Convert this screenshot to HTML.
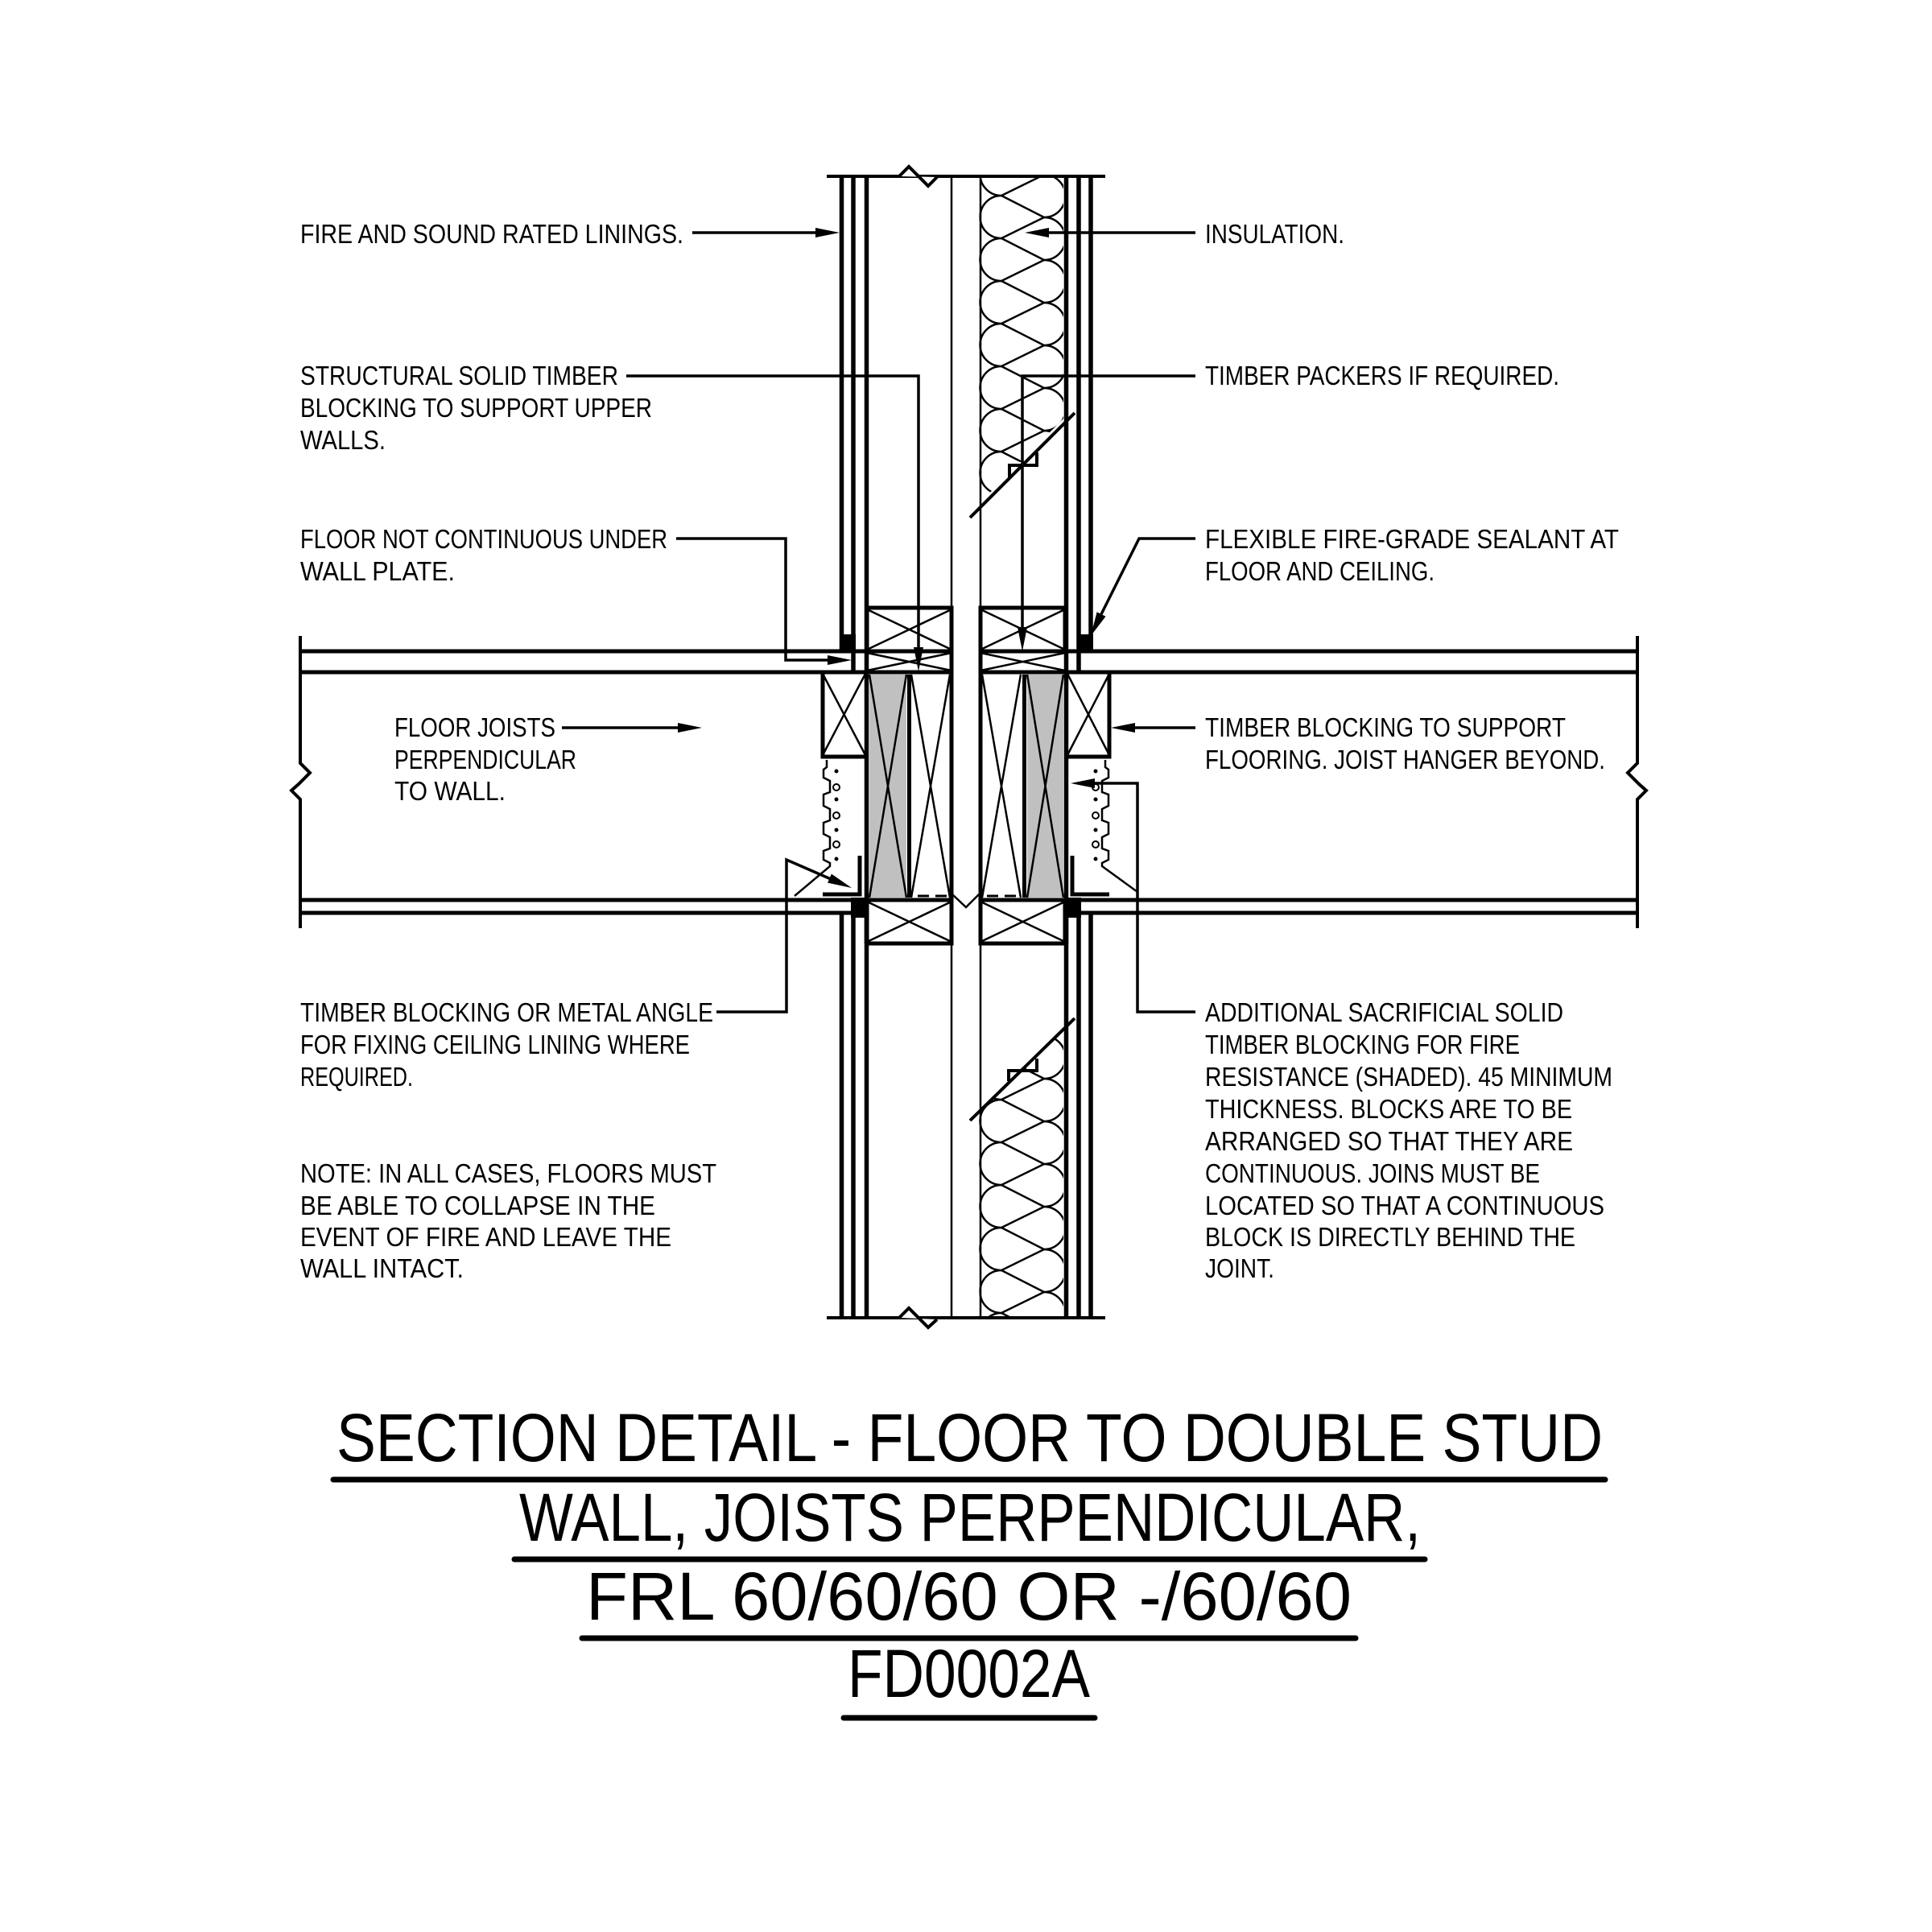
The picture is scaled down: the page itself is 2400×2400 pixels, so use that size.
<!DOCTYPE html>
<html><head><meta charset="utf-8"><style>
html,body{margin:0;padding:0;background:#fff}
svg{display:block}
text{font-family:"Liberation Sans",sans-serif;font-size:33px;fill:#000}
.t{font-size:84px}
</style></head><body>
<svg width="2400" height="2400" viewBox="0 0 2400 2400" xmlns="http://www.w3.org/2000/svg">
<defs>
<clipPath id="insTop"><polygon points="1218,219 1321,219 1321,520 1205,637"/></clipPath>
<clipPath id="insBot"><polygon points="1218,1637 1321,1637 1321,1278 1205,1392"/></clipPath>
</defs>
<g stroke="#000" fill="none" stroke-linecap="butt">
<g stroke-width="5">
<line x1="373" y1="809" x2="1183" y2="809"/><line x1="1216" y1="809" x2="2034" y2="809"/>
<line x1="373" y1="835" x2="1183" y2="835"/><line x1="1216" y1="835" x2="2034" y2="835"/>
<line x1="373" y1="1118" x2="1183" y2="1118"/><line x1="1216" y1="1118" x2="2034" y2="1118"/>
<line x1="373" y1="1134" x2="1076" y2="1134"/><line x1="1324" y1="1134" x2="2034" y2="1134"/>
</g>
<polyline stroke-width="4" points="373,790 373,948 385,960 371,974 362,982 373,993 373,1153"/>
<polyline stroke-width="4" points="2034,790 2034,948 2022,960 2036,974 2045,982 2034,993 2034,1153"/>
<line stroke-width="4" x1="1027" y1="219" x2="1373" y2="219"/>
<line stroke-width="4" x1="1027" y1="1637" x2="1373" y2="1637"/>
<polyline stroke-width="4" fill="#fff" points="1117,219 1129,207 1153,231 1164,220"/>
<polyline stroke-width="4" fill="#fff" points="1117,1637 1129,1625 1153,1649 1164,1639"/>
<g stroke-width="5.5">
<line x1="1045.5" y1="219" x2="1045.5" y2="809"/>
<line x1="1060" y1="219" x2="1060" y2="835"/>
<line x1="1076.5" y1="219" x2="1076.5" y2="1172"/>
<line x1="1324.5" y1="219" x2="1324.5" y2="1172"/>
<line x1="1340" y1="219" x2="1340" y2="835"/>
<line x1="1355" y1="219" x2="1355" y2="809"/>
<line x1="1045.5" y1="1134" x2="1045.5" y2="1637"/>
<line x1="1060" y1="1134" x2="1060" y2="1637"/>
<line x1="1076.5" y1="1134" x2="1076.5" y2="1637"/>
<line x1="1324.5" y1="1134" x2="1324.5" y2="1637"/>
<line x1="1340" y1="1134" x2="1340" y2="1637"/>
<line x1="1355" y1="1134" x2="1355" y2="1637"/>
</g>
<g stroke-width="2.5">
<line x1="1182" y1="219" x2="1182" y2="1637"/>
<line x1="1218" y1="219" x2="1218" y2="1637"/>
</g>
<rect x="1080" y="838" width="46" height="277" fill="#c0c0c0" stroke="none"/>
<rect x="1276" y="838" width="45" height="277" fill="#c0c0c0" stroke="none"/>
<g stroke-width="5">
<rect x="1077" y="755" width="105" height="54"/>
<rect x="1218" y="755" width="105" height="54"/>
<rect x="1077" y="1118" width="105" height="54"/>
<rect x="1218" y="1118" width="105" height="54"/>
<line x1="1182" y1="755" x2="1182" y2="1172"/>
<line x1="1218" y1="755" x2="1218" y2="1172"/>
<line x1="1129.5" y1="838" x2="1129.5" y2="1115"/>
<line x1="1272.5" y1="838" x2="1272.5" y2="1115"/>
<polyline points="1077,940 1022,940 1022,835"/>
<polyline points="1324,940 1378,940 1378,835"/>
</g>
<g stroke-width="2.5">
<path d="M1077,757 L1182,807 M1182,757 L1077,807 M1077,811 L1182,833 M1182,811 L1077,833"/>
<path d="M1218,757 L1323,807 M1323,757 L1218,807 M1218,811 L1323,833 M1323,811 L1218,833"/>
<path d="M1077,1120 L1182,1170 M1182,1120 L1077,1170 M1218,1120 L1323,1170 M1323,1120 L1218,1170"/>
<path d="M1080,838 L1126,1115 M1126,838 L1080,1115 M1132,838 L1180,1115 M1180,838 L1132,1115"/>
<path d="M1220,838 L1268,1115 M1268,838 L1220,1115 M1276,838 L1321,1115 M1321,838 L1276,1115"/>
<path d="M1022,837 L1075,938 M1075,837 L1022,938 M1326,837 L1378,938 M1378,837 L1326,938"/>
<polyline points="1183,1111 1200,1127 1216,1111"/>
</g>
<g stroke-width="3" stroke-dasharray="14,8">
<line x1="1140" y1="1113" x2="1176" y2="1113"/>
<line x1="1226" y1="1113" x2="1262" y2="1113"/>
</g>
<g stroke-width="2.5">
<polyline points="1027,944 1027,953 1023,956 1023,966 1031,970 1031,984 1023,987 1023,1001 1031,1005 1031,1019 1023,1022 1023,1036 1031,1040 1031,1054 1023,1057 1023,1068 1031,1072 1031,1076 987,1113"/>
<polyline points="1373,944 1373,953 1377,956 1377,966 1369,970 1369,984 1377,987 1377,1001 1369,1005 1369,1019 1377,1022 1377,1036 1369,1040 1369,1054 1377,1057 1377,1068 1369,1072 1369,1076 1413,1108"/>
</g>
<g fill="#000" stroke="none">
<circle cx="1039" cy="958" r="2.5"/><circle cx="1039" cy="993" r="2.5"/><circle cx="1039" cy="1031" r="2.5"/><circle cx="1039" cy="1067" r="2.5"/>
<circle cx="1361" cy="958" r="2.5"/><circle cx="1361" cy="993" r="2.5"/><circle cx="1361" cy="1031" r="2.5"/><circle cx="1361" cy="1067" r="2.5"/>
</g>
<g stroke-width="2"><circle cx="1039" cy="978" r="4"/><circle cx="1039" cy="1013" r="4"/><circle cx="1039" cy="1049" r="4"/>
<circle cx="1361" cy="978" r="4"/><circle cx="1361" cy="1013" r="4"/><circle cx="1361" cy="1049" r="4"/></g>
<g stroke-width="5">
<polyline points="1068,1063 1068,1111 1022,1111"/>
<polyline points="1332,1063 1332,1111 1378,1111"/>
</g>
<g fill="#000" stroke="none">
<rect x="1043" y="788" width="20" height="21"/>
<rect x="1338" y="788" width="20" height="21"/>
<rect x="1057" y="1115" width="21" height="25"/>
<rect x="1322" y="1115" width="21" height="25"/>
</g>
<g clip-path="url(#insTop)" stroke-width="2.5">
<path id="insPath" d="M1244,137 A26.5,26.5 0 0 0 1244,190 A26.5,26.5 0 0 0 1244,243 A26.5,26.5 0 0 0 1244,296 A26.5,26.5 0 0 0 1244,349 A26.5,26.5 0 0 0 1244,402 A26.5,26.5 0 0 0 1244,455 A26.5,26.5 0 0 0 1244,508 A26.5,26.5 0 0 0 1244,561 A26.5,26.5 0 0 0 1244,614 A26.5,26.5 0 0 0 1244,667 M1297,164 A26.5,26.5 0 0 1 1297,217 A26.5,26.5 0 0 1 1297,270 A26.5,26.5 0 0 1 1297,323 A26.5,26.5 0 0 1 1297,376 A26.5,26.5 0 0 1 1297,429 A26.5,26.5 0 0 1 1297,482 A26.5,26.5 0 0 1 1297,535 A26.5,26.5 0 0 1 1297,588 A26.5,26.5 0 0 1 1297,641 M1244,190 L1297,164 M1244,190 L1297,217 M1244,243 L1297,217 M1244,243 L1297,270 M1244,296 L1297,270 M1244,296 L1297,323 M1244,349 L1297,323 M1244,349 L1297,376 M1244,402 L1297,376 M1244,402 L1297,429 M1244,455 L1297,429 M1244,455 L1297,482 M1244,508 L1297,482 M1244,508 L1297,535 M1244,561 L1297,535 M1244,561 L1297,588 M1244,614 L1297,588 M1244,614 L1297,641"/>
</g>
<g clip-path="url(#insBot)" stroke-width="2.5">
<use href="#insPath" transform="translate(0,1017)"/>
</g>
<g stroke-width="4">
<line x1="1205" y1="643" x2="1335" y2="513"/>
<polyline points="1254,594 1254,578 1288,578 1288,562"/>
<line x1="1205" y1="1392" x2="1335" y2="1265"/>
<polyline points="1253,1343 1253,1330 1288,1330 1288,1315"/>
</g>
<g stroke-width="3.5">
<line x1="860" y1="289" x2="1020" y2="289"/>
<line x1="1485" y1="289" x2="1296" y2="289"/>
<polyline points="778,467 1141,467 1141,810"/>
<polyline points="1485,467 1270,467 1270,785"/>
<polyline points="840,669 976,669 976,820 1035,820"/>
<polyline points="1485,669 1415,669 1368,763"/>
<line x1="698" y1="904" x2="848" y2="904"/>
<line x1="1485" y1="904" x2="1403" y2="904"/>
<polyline points="890,1257 977,1257 977,1068 1032,1092"/>
<polyline points="1485,1257 1413,1257 1413,973 1353,973"/>
</g>
<g fill="#000" stroke="none">
<polygon points="1043,289 1013,283 1013,295"/>
<polygon points="1273,289 1303,283 1303,295"/>
<polygon points="1141,834 1135,804 1147,804"/>
<polygon points="1270,809 1264,779 1276,779"/>
<polygon points="1058,820 1028,814 1028,826"/>
<polygon points="1355,790 1373.5,765.7 1362.6,760.3"/>
<polygon points="872,904 842,898 842,910"/>
<polygon points="1380,904 1410,898 1410,910"/>
<polygon points="1058,1103 1028.1,1096.6 1032.9,1085.6"/>
<polygon points="1330,973 1360,967 1360,979"/>
</g>
<g stroke-width="7" stroke-linecap="round">
<line x1="414" y1="1838" x2="1994" y2="1838"/>
<line x1="639" y1="1937" x2="1770" y2="1937"/>
<line x1="723" y1="2035" x2="1684" y2="2035"/>
<line x1="1048" y1="2134" x2="1360" y2="2134"/>
</g>
</g>
<g>
<text x="373" y="302" textLength="476" lengthAdjust="spacingAndGlyphs">FIRE AND SOUND RATED LININGS.</text>
<text x="373" y="478" textLength="395" lengthAdjust="spacingAndGlyphs">STRUCTURAL SOLID TIMBER</text>
<text x="373" y="518" textLength="437" lengthAdjust="spacingAndGlyphs">BLOCKING TO SUPPORT UPPER</text>
<text x="373" y="558" textLength="106" lengthAdjust="spacingAndGlyphs">WALLS.</text>
<text x="373" y="681" textLength="456" lengthAdjust="spacingAndGlyphs">FLOOR NOT CONTINUOUS UNDER</text>
<text x="373" y="721" textLength="192" lengthAdjust="spacingAndGlyphs">WALL PLATE.</text>
<text x="490" y="915" textLength="200" lengthAdjust="spacingAndGlyphs">FLOOR JOISTS</text>
<text x="490" y="955" textLength="226" lengthAdjust="spacingAndGlyphs">PERPENDICULAR</text>
<text x="490" y="994" textLength="138" lengthAdjust="spacingAndGlyphs">TO WALL.</text>
<text x="373" y="1269" textLength="513" lengthAdjust="spacingAndGlyphs">TIMBER BLOCKING OR METAL ANGLE</text>
<text x="373" y="1309" textLength="484" lengthAdjust="spacingAndGlyphs">FOR FIXING CEILING LINING WHERE</text>
<text x="373" y="1349" textLength="140" lengthAdjust="spacingAndGlyphs">REQUIRED.</text>
<text x="373" y="1469" textLength="517" lengthAdjust="spacingAndGlyphs">NOTE: IN ALL CASES, FLOORS MUST</text>
<text x="373" y="1509" textLength="441" lengthAdjust="spacingAndGlyphs">BE ABLE TO COLLAPSE IN THE</text>
<text x="373" y="1548" textLength="461" lengthAdjust="spacingAndGlyphs">EVENT OF FIRE AND LEAVE THE</text>
<text x="373" y="1587" textLength="203" lengthAdjust="spacingAndGlyphs">WALL INTACT.</text>
<text x="1497" y="302" textLength="173" lengthAdjust="spacingAndGlyphs">INSULATION.</text>
<text x="1497" y="478" textLength="440" lengthAdjust="spacingAndGlyphs">TIMBER PACKERS IF REQUIRED.</text>
<text x="1497" y="681" textLength="514" lengthAdjust="spacingAndGlyphs">FLEXIBLE FIRE-GRADE SEALANT AT</text>
<text x="1497" y="721" textLength="285" lengthAdjust="spacingAndGlyphs">FLOOR AND CEILING.</text>
<text x="1497" y="915" textLength="448" lengthAdjust="spacingAndGlyphs">TIMBER BLOCKING TO SUPPORT</text>
<text x="1497" y="955" textLength="497" lengthAdjust="spacingAndGlyphs">FLOORING. JOIST HANGER BEYOND.</text>
<text x="1497" y="1269" textLength="445" lengthAdjust="spacingAndGlyphs">ADDITIONAL SACRIFICIAL SOLID</text>
<text x="1497" y="1309" textLength="391" lengthAdjust="spacingAndGlyphs">TIMBER BLOCKING FOR FIRE</text>
<text x="1497" y="1349" textLength="506" lengthAdjust="spacingAndGlyphs">RESISTANCE (SHADED). 45 MINIMUM</text>
<text x="1497" y="1389" textLength="456" lengthAdjust="spacingAndGlyphs">THICKNESS. BLOCKS ARE TO BE</text>
<text x="1497" y="1429" textLength="457" lengthAdjust="spacingAndGlyphs">ARRANGED SO THAT THEY ARE</text>
<text x="1497" y="1469" textLength="416" lengthAdjust="spacingAndGlyphs">CONTINUOUS. JOINS MUST BE</text>
<text x="1497" y="1509" textLength="496" lengthAdjust="spacingAndGlyphs">LOCATED SO THAT A CONTINUOUS</text>
<text x="1497" y="1548" textLength="460" lengthAdjust="spacingAndGlyphs">BLOCK IS DIRECTLY BEHIND THE</text>
<text x="1497" y="1587" textLength="86" lengthAdjust="spacingAndGlyphs">JOINT.</text>
<text class="t" x="418" y="1815" textLength="1573" lengthAdjust="spacingAndGlyphs">SECTION DETAIL - FLOOR TO DOUBLE STUD</text>
<text class="t" x="645" y="1914" textLength="1120" lengthAdjust="spacingAndGlyphs">WALL, JOISTS PERPENDICULAR,</text>
<text class="t" x="728" y="2012" textLength="951" lengthAdjust="spacingAndGlyphs">FRL 60/60/60 OR -/60/60</text>
<text class="t" x="1053" y="2108" textLength="301" lengthAdjust="spacingAndGlyphs">FD0002A</text>
</g>
</svg>
</body></html>
